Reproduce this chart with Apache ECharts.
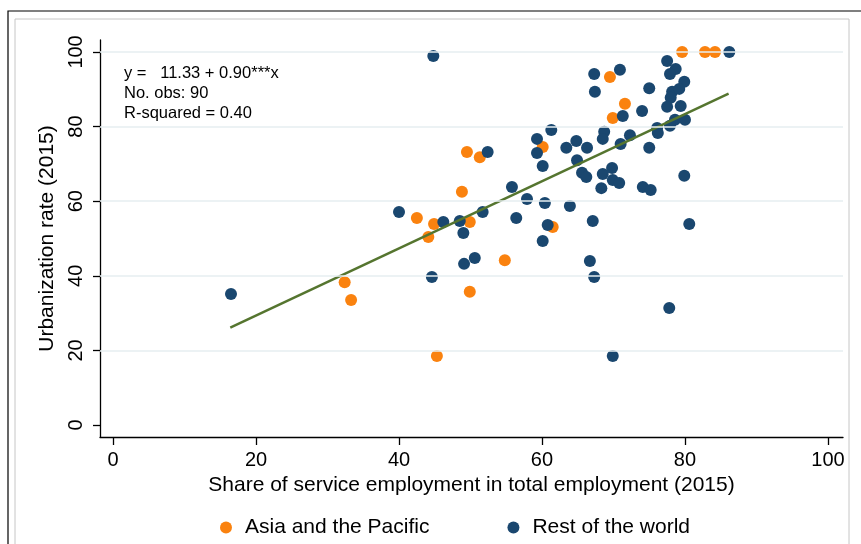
<!DOCTYPE html>
<html>
<head>
<meta charset="utf-8">
<script src="https://cdn.jsdelivr.net/npm/echarts@6/dist/echarts.min.js"></script>
<style>
  html, body { margin: 0; padding: 0; background: #fff; }
  #chart { width: 861px; height: 544px; }
</style>
</head>
<body>
<div id="chart"></div>
<script>
// 数据：点 [服务业就业占比, 城镇化率]
var asiaPacific = [
  [79.6, 100], [82.8, 100], [84.2, 100], [69.5, 93.3], [71.6, 86.1],
  [69.9, 82.3], [60.1, 74.5], [49.5, 73.2], [51.3, 71.8], [48.8, 62.5],
  [42.5, 55.5], [44.9, 53.9], [49.9, 54.4], [44.1, 50.4], [61.5, 53.1],
  [54.8, 44.2], [32.4, 38.3], [33.3, 33.5], [49.9, 35.7], [45.3, 18.5]
];
var restOfWorld = [
  [44.8, 98.9], [67.3, 94.1], [67.4, 89.3], [61.3, 79.1], [59.3, 76.7],
  [59.3, 72.9], [52.4, 73.2], [63.4, 74.3], [64.8, 76.1], [66.3, 74.3],
  [64.9, 71.0], [65.6, 67.6], [66.2, 66.5], [55.8, 63.8], [57.9, 60.6],
  [60.4, 59.5], [63.9, 58.7], [40.0, 57.1], [46.2, 54.4], [48.5, 54.7],
  [51.7, 57.1], [56.4, 55.5], [60.8, 53.6], [49.0, 51.5], [60.1, 49.3],
  [67.1, 54.7], [50.6, 44.8], [49.1, 43.2], [44.6, 39.7], [66.7, 44.0],
  [67.3, 39.7], [16.5, 35.1], [68.3, 63.5], [74.1, 63.8], [75.2, 63.0],
  [80.6, 53.9], [77.8, 31.4], [69.9, 18.5], [86.2, 100], [77.5, 97.6],
  [70.9, 95.2], [78.7, 95.4], [77.9, 94.1], [79.9, 92.0], [75.0, 90.3],
  [78.2, 89.3], [79.2, 90.1], [78.0, 87.7], [77.5, 85.3], [79.4, 85.5],
  [74.0, 84.2], [71.3, 82.8], [80.0, 81.8], [78.6, 81.8], [77.9, 80.2],
  [76.1, 79.6], [76.2, 78.3], [68.7, 78.6], [68.5, 76.7], [72.3, 77.7],
  [71.0, 75.3], [75.0, 74.3], [68.5, 67.3], [69.8, 68.9], [69.9, 65.7],
  [70.8, 64.9], [79.9, 66.8], [60.1, 69.4]
];
// 拟合线两个端点
var fitLine = [[16.4, 26.1], [86.1, 88.8]];
var xTicks = [0, 20, 40, 60, 80, 100];
var yTicks = [0, 20, 40, 60, 80, 100];
var yGrid = [20, 40, 60, 80, 100];
var statText = ['y =   11.33 + 0.90***x', 'No. obs: 90', 'R-squared = 0.40'];

var font = '"Liberation Sans", Arial, sans-serif';
var myChart = echarts.init(document.getElementById('chart'));

myChart.setOption({
    animation: false,
    backgroundColor: '#fff',
    textStyle: { fontFamily: font },
    grid: { left: 100, right: 18, top: 40, bottom: 107 },
    legend: {
        left: 215,
        top: 512,
        itemWidth: 12,
        itemHeight: 12,
        itemGap: 78,
        data: ['Asia and the Pacific', 'Rest of the world'],
        textStyle: { fontSize: 21, color: '#000', fontFamily: font, padding: [0, 0, 0, 8] }
    },
    graphic: [
        { type: 'rect', shape: { x: 8, y: 11, width: 880, height: 560 }, style: { fill: 'none', stroke: '#000', lineWidth: 1.2 } },
        { type: 'rect', shape: { x: 15, y: 19, width: 834, height: 560 }, style: { fill: 'none', stroke: '#c6c6c6', lineWidth: 1 } },
        {
            type: 'text', left: 124, top: 63,
            style: { text: statText.join('\n'), fontSize: 16.5, lineHeight: 20, fill: '#000', fontFamily: font }
        }
    ],
    xAxis: {
        type: 'value',
        min: -1.82,
        max: 102.1,
        name: 'Share of service employment in total employment (2015)',
        nameLocation: 'middle',
        nameGap: 36,
        nameTextStyle: { fontSize: 21, color: '#000', fontFamily: font },
        axisLine: { show: true, onZero: false, lineStyle: { color: '#000', width: 1.3 } },
        axisTick: { show: true, length: 8, customValues: xTicks, lineStyle: { color: '#000', width: 1.3 } },
        axisLabel: { customValues: xTicks, fontSize: 20, color: '#000', margin: 13, fontFamily: font },
        splitLine: { show: false }
    },
    yAxis: {
        type: 'value',
        min: -3.2,
        max: 103.2,
        name: 'Urbanization rate (2015)',
        nameLocation: 'middle',
        nameGap: 39,
        nameTextStyle: { fontSize: 21, color: '#000', fontFamily: font },
        axisLine: { show: true, onZero: false, lineStyle: { color: '#000', width: 1.3 } },
        axisTick: { show: true, length: 7, customValues: yTicks, lineStyle: { color: '#000', width: 1.3 } },
        axisLabel: { customValues: yTicks, rotate: 90, fontSize: 20, color: '#000', margin: 14, fontFamily: font },
        splitLine: { show: false }
    },
    series: [
        {
            name: 'grid',
            type: 'line',
            data: [],
            z: 1,
            silent: true,
            markLine: {
                silent: true,
                symbol: 'none',
                label: { show: false },
                lineStyle: { color: '#e6eef0', width: 1.6, type: 'solid' },
                data: yGrid.map(function (v) { return { yAxis: v }; })
            }
        },
        {
            name: 'Asia and the Pacific',
            type: 'scatter',
            symbol: 'circle',
            symbolSize: 12,
            z: 2,
            itemStyle: { color: '#fa820f', opacity: 1 },
            data: asiaPacific
        },
        {
            name: 'Rest of the world',
            type: 'scatter',
            symbol: 'circle',
            symbolSize: 12,
            z: 3,
            itemStyle: { color: '#1a476f', opacity: 1 },
            data: restOfWorld
        },
        {
            name: 'fit',
            type: 'line',
            symbol: 'none',
            z: 4,
            lineStyle: { color: '#55752f', width: 2.5 },
            data: fitLine
        }
    ]
});
</script>
</body>
</html>
